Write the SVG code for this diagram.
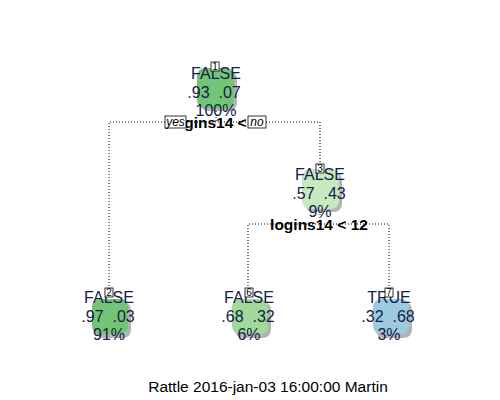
<svg xmlns="http://www.w3.org/2000/svg" width="500" height="400" viewBox="0 0 500 400">
<defs>
<style>
.t{font-family:"Liberation Sans",Arial,sans-serif;font-size:16px;fill:#14204a;text-anchor:middle;white-space:pre}
.s{font-family:"Liberation Sans",Arial,sans-serif;font-size:15.5px;font-weight:bold;fill:#000;text-anchor:middle}
.n{font-family:"Liberation Sans",Arial,sans-serif;font-size:10px;fill:#000;text-anchor:middle}
.yn{font-family:"Liberation Sans",Arial,sans-serif;font-size:12px;font-style:italic;fill:#000;text-anchor:middle}
.c{fill:none;stroke:#000;stroke-width:1;stroke-dasharray:1,2}
.sh{fill:#b4b4b4}
.lb{fill:#fff;stroke:#000;stroke-width:0.8}
</style>
</defs>
<rect width="500" height="400" fill="#fff"/>
<g id="connectors">
<path class="c" d="M216,108 V122 M109,289 V122 H320 V166"/>
<path class="c" d="M320,208 V224 M248,289 V224 H389 V289"/>
</g>
<g id="node1">
<rect class="sh" x="200" y="71" width="37" height="40" rx="8"/>
<rect x="197" y="68" width="37" height="40" rx="8" fill="#74c476"/>
<text class="t" x="216" y="79">FALSE</text>
<text class="t" x="214" y="98" xml:space="preserve">.93  .07</text>
<text class="t" x="216" y="116">100%</text>
<rect class="lb" x="211" y="62" width="8" height="9"/>
<text class="n" x="215" y="70">1</text>
</g>
<g id="split1">
<text class="s" x="215" y="128">logins14 &lt; 5</text>
<rect class="lb" x="165" y="116" width="21" height="12"/>
<text class="yn" x="175.5" y="126">yes</text>
<rect class="lb" x="248" y="116" width="18" height="12"/>
<text class="yn" x="257" y="126">no</text>
</g>
<g id="node3">
<rect class="sh" x="305" y="172" width="37" height="40" rx="8"/>
<rect x="302" y="169" width="37" height="40" rx="8" fill="#c7e9c0"/>
<text class="t" x="320" y="180">FALSE</text>
<text class="t" x="319" y="199" xml:space="preserve">.57  .43</text>
<text class="t" x="320" y="217">9%</text>
<rect class="lb" x="316" y="164" width="8" height="9"/>
<text class="n" x="320" y="172">3</text>
</g>
<g id="split3">
<text class="s" x="319" y="230">logins14 &lt; 12</text>
</g>
<g id="node2">
<rect class="sh" x="95" y="302" width="36" height="36" rx="8"/>
<rect x="92" y="299" width="36" height="35" rx="8" fill="#74c476"/>
<text class="t" x="109" y="303">FALSE</text>
<text class="t" x="108" y="322" xml:space="preserve">.97  .03</text>
<text class="t" x="109" y="340">91%</text>
<rect class="lb" x="105" y="288" width="8" height="9"/>
<text class="n" x="109" y="296">2</text>
</g>
<g id="node6">
<rect class="sh" x="235" y="302" width="36" height="36" rx="8"/>
<rect x="232" y="299" width="36" height="35" rx="8" fill="#a1d99b"/>
<text class="t" x="249" y="303">FALSE</text>
<text class="t" x="248" y="322" xml:space="preserve">.68  .32</text>
<text class="t" x="249" y="340">6%</text>
<rect class="lb" x="245" y="288" width="8" height="9"/>
<text class="n" x="249" y="296">6</text>
</g>
<g id="node7">
<rect class="sh" x="376" y="302" width="36" height="36" rx="8"/>
<rect x="373" y="299" width="36" height="35" rx="8" fill="#9ecae1"/>
<text class="t" x="389" y="303">TRUE</text>
<text class="t" x="388" y="322" xml:space="preserve">.32  .68</text>
<text class="t" x="389" y="340">3%</text>
<rect class="lb" x="385" y="288" width="8" height="9"/>
<text class="n" x="389" y="296">7</text>
</g>
<text x="268" y="392" style="font-family:'Liberation Sans',Arial,sans-serif;font-size:15.5px;fill:#000;text-anchor:middle">Rattle 2016-jan-03 16:00:00 Martin</text>
</svg>
